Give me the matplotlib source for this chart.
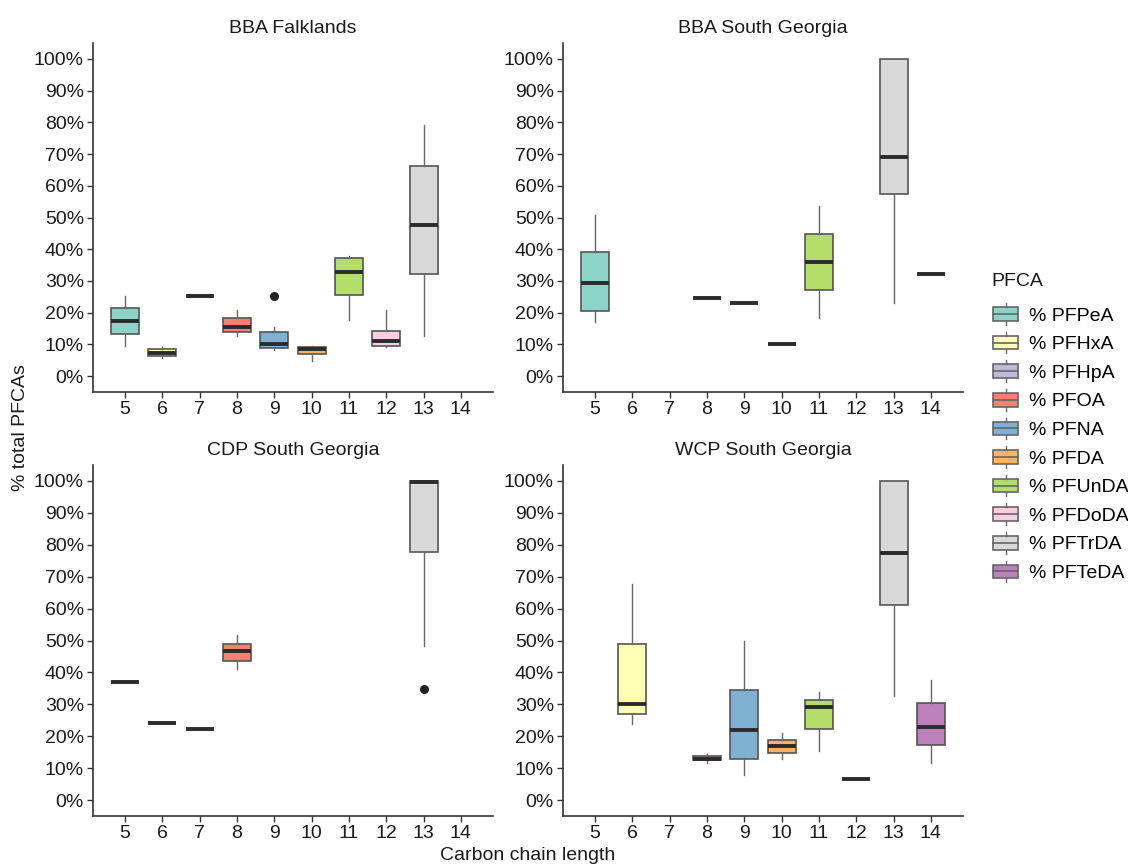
import matplotlib
matplotlib.use("Agg")
import matplotlib.pyplot as plt
from matplotlib.ticker import PercentFormatter
from matplotlib.patches import Patch, Rectangle
from matplotlib.lines import Line2D
from matplotlib.legend_handler import HandlerBase

plt.rcParams['font.family'] = ['Liberation Sans', 'DejaVu Sans']

compounds = ['% PFPeA', '% PFHxA', '% PFHpA', '% PFOA', '% PFNA',
             '% PFDA', '% PFUnDA', '% PFDoDA', '% PFTrDA', '% PFTeDA']
carbons = [5, 6, 7, 8, 9, 10, 11, 12, 13, 14]
colors = ['#8DD3C7', '#FFFFB3', '#BEBADA', '#FB8072', '#80B1D3',
          '#FDB462', '#B3DE69', '#FCCDE5', '#D9D9D9', '#BC80BD']

sites = ['BBA Falklands', 'BBA South Georgia', 'CDP South Georgia', 'WCP South Georgia']

# (carbon, whisker low, q1, median, q3, whisker high), values in %
bba_falklands = [
    (5, 9.5, 13.2, 17.4, 21.4, 25.4),
    (6, 5.6, 6.4, 7.4, 8.4, 9.3),
    (7, 25.4, 25.4, 25.4, 25.4, 25.4),
    (8, 12.6, 13.9, 15.5, 18.2, 20.7),
    (9, 8.2, 8.9, 10.2, 14.0, 15.5),
    (10, 4.8, 7.1, 8.6, 9.2, 9.5),
    (11, 17.6, 25.7, 32.8, 37.3, 37.8),
    (12, 9.3, 9.5, 11.1, 14.3, 20.7),
    (13, 12.6, 32.3, 47.5, 66.1, 79.3),
]
bba_south_georgia = [
    (5, 17.2, 20.5, 29.2, 39.1, 50.9),
    (8, 24.5, 24.5, 24.5, 24.5, 24.5),
    (9, 23.0, 23.0, 23.0, 23.0, 23.0),
    (10, 10.0, 10.0, 10.0, 10.0, 10.0),
    (11, 18.2, 27.1, 36.1, 44.9, 53.7),
    (13, 23.2, 57.5, 69.2, 100.0, 100.0),
    (14, 32.3, 32.3, 32.3, 32.3, 32.3),
]
cdp_south_georgia = [
    (5, 36.9, 36.9, 36.9, 36.9, 36.9),
    (6, 24.1, 24.1, 24.1, 24.1, 24.1),
    (7, 22.3, 22.3, 22.3, 22.3, 22.3),
    (8, 41.1, 43.6, 46.6, 49.0, 51.8),
    (13, 48.3, 77.6, 99.8, 100.0, 100.0),
]
wcp_south_georgia = [
    (6, 23.7, 27.0, 30.1, 49.0, 67.7),
    (8, 11.6, 12.4, 12.8, 13.9, 14.5),
    (9, 7.9, 13.0, 22.0, 34.4, 49.9),
    (10, 12.9, 14.9, 16.8, 18.8, 21.1),
    (11, 15.4, 22.4, 29.1, 31.3, 33.9),
    (12, 6.7, 6.7, 6.7, 6.7, 6.7),
    (13, 32.7, 61.1, 77.3, 100.0, 100.0),
    (14, 11.6, 17.1, 23.0, 30.3, 37.6),
]
# outliers: site -> {carbon: [values]}
outliers = {
    'BBA Falklands': {9: [25.4]},
    'CDP South Georgia': {13: [34.9]},
}

site_stats = [bba_falklands, bba_south_georgia, cdp_south_georgia, wcp_south_georgia]


class BoxKeyHandler(HandlerBase):
    """ggplot-like boxplot key: box, median line, whisker stubs."""
    def create_artists(self, legend, orig_handle, xdescent, ydescent,
                       width, height, fontsize, trans):
        x0, y0 = -xdescent, -ydescent
        ec = '#666666'
        box = Rectangle((x0, y0 + 0.12 * height), width, 0.76 * height,
                        facecolor=orig_handle.get_facecolor(), edgecolor=ec,
                        lw=1.2, transform=trans)
        med = Line2D([x0, x0 + width], [y0 + height / 2] * 2, color=ec, lw=1.2, transform=trans)
        top = Line2D([x0 + width / 2] * 2, [y0 + 0.88 * height, y0 + 1.1 * height],
                     color=ec, lw=1.0, transform=trans)
        bot = Line2D([x0 + width / 2] * 2, [y0 - 0.1 * height, y0 + 0.12 * height],
                     color=ec, lw=1.0, transform=trans)
        return [box, med, top, bot]


W, H = 1128, 866
FS = 14
fig = plt.figure(figsize=(W / 100, H / 100), dpi=100)

lefts = [93, 563]
tops = [43, 465]
bottoms = [392, 816]
panel_w = 400

for i, (site, stats) in enumerate(zip(sites, site_stats)):
    r, c = divmod(i, 2)
    ax = fig.add_axes([lefts[c] / W, 1 - bottoms[r] / H,
                       panel_w / W, (bottoms[r] - tops[r]) / H])

    bstats = []
    pos = []
    fills = []
    for carbon, lo, q1, med, q3, hi in stats:
        bstats.append(dict(whislo=lo, q1=q1, med=med, q3=q3, whishi=hi,
                           fliers=outliers.get(site, {}).get(carbon, [])))
        pos.append(carbon)
        fills.append(colors[carbons.index(carbon)])

    bp = ax.bxp(bstats, positions=pos, widths=0.75, patch_artist=True,
                showcaps=False,
                boxprops=dict(edgecolor='#555555', linewidth=1.2),
                whiskerprops=dict(color='#666666', linewidth=1.0),
                medianprops=dict(color='#2b2b2b', linewidth=2.8, solid_capstyle='butt'),
                flierprops=dict(marker='o', markerfacecolor='#222222',
                                markeredgecolor='#222222', markersize=5.5))
    for patch, fc in zip(bp['boxes'], fills):
        patch.set_facecolor(fc)

    ax.set_xlim(4.1375, 14.8625)
    ax.set_ylim(-5, 105)
    ax.set_xticks(carbons)
    ax.set_xticklabels([str(k) for k in carbons])
    ax.set_yticks(range(0, 101, 10))
    ax.yaxis.set_major_formatter(PercentFormatter(xmax=100, decimals=0))
    ax.tick_params(labelsize=FS, length=4, width=1, color='#333333',
                   labelcolor='#1a1a1a', pad=2.5)
    for side in ['top', 'right']:
        ax.spines[side].set_visible(False)
    for side in ['left', 'bottom']:
        ax.spines[side].set_color('#333333')
        ax.spines[side].set_linewidth(1.2)
    ax.set_title(site, fontsize=FS, pad=7, color='#1a1a1a')

fig.text(21 / W, 1 - 428 / H, '% total PFCAs', rotation=90, fontsize=FS,
         ha='center', va='center', color='#1a1a1a')
fig.text(528 / W, 1 - 856 / H, 'Carbon chain length', fontsize=FS,
         ha='center', va='center', color='#1a1a1a')

# legend title drawn separately to get ggplot's gap under it
fig.text(991 / W, 1 - 282 / H, 'PFCA', fontsize=FS, ha='left', va='center',
         color='#1a1a1a')
handles = [Patch(facecolor=col, edgecolor='#555555') for col in colors]
leg = fig.legend(handles, compounds, loc='upper left',
                 bbox_to_anchor=(993 / W, 1 - 305 / H), frameon=False,
                 fontsize=FS, handlelength=1.29, handleheight=1.05,
                 handletextpad=0.57, labelspacing=0.46, borderpad=0,
                 borderaxespad=0,
                 handler_map={Patch: BoxKeyHandler()})

fig.savefig('out.png', dpi=100)
